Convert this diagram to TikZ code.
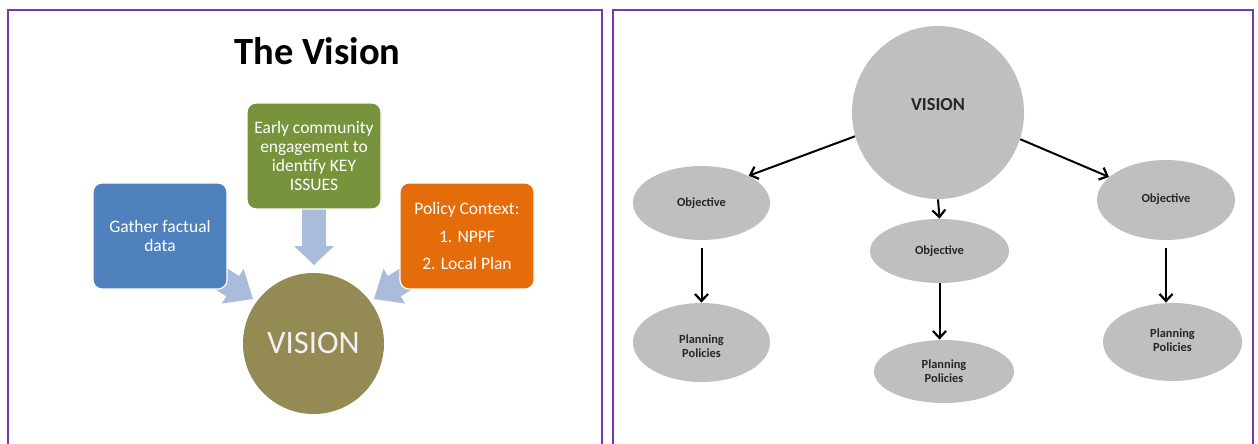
\documentclass[tikz,border=0pt]{standalone}
\usepackage{fontspec}
\setmainfont{Carlito}
\usetikzlibrary{arrows.meta,shapes.geometric}

\definecolor{framepurple}{HTML}{7438B0}
\definecolor{boxblue}{HTML}{4F81BD}
\definecolor{boxgreen}{HTML}{77933C}
\definecolor{boxorange}{HTML}{E46C0A}
\definecolor{visionolive}{HTML}{948A54}
\definecolor{flowblue}{HTML}{A9BCDC}
\definecolor{bubblegray}{HTML}{BFBFBF}

\begin{document}
\begin{tikzpicture}[x=0.5pt,y=-0.5pt,
  panel/.style={draw=framepurple,line width=1pt},
  srcbox/.style={rounded corners=4.5pt,draw=white,line width=0.6pt,
    minimum width=67pt,minimum height=53pt,inner sep=0pt,align=center,
    text=white,font=\fontsize{8.75}{9.65}\selectfont},
  flow/.style={fill=flowblue,draw=none},
  bubble/.style={ellipse,fill=bubblegray,draw=none,inner sep=0pt},
  bubbletext/.style={font=\bfseries\fontsize{6.2}{7}\selectfont,align=center,text=black!85},
  link/.style={line width=1pt,-{Straight Barb[length=3.5pt,width=6.5pt,line width=1.1pt]}}
]
\useasboundingbox (0,0) rectangle (1258,444);
\clip (0,0) rectangle (1258,444);
\fill[white] (0,0) rectangle (1258,444);

% the two panels, running off the lower edge
\draw[panel] (7.5,10) rectangle (601.5,480);
\draw[panel] (612.5,10) rectangle (1252.5,480);

% ---------------- left panel ----------------
\node[anchor=base,font=\bfseries\fontsize{19.25}{23}\selectfont] (title) at (317.5,65) {The Vision};

% converging block arrows (drawn beneath the boxes)
\fill[flow] (302,205) -- (326,205) -- (326,246) -- (334,246) -- (314,265)
  -- (294,246) -- (302,246) -- cycle;
\fill[flow] (188.2,272.4) -- (226.3,296.4) -- (221.8,303.6) -- (253,299)
  -- (243.6,268.8) -- (239.1,276.0) -- (201.0,252.0) -- cycle;
\fill[flow] (438.8,272.4) -- (400.7,296.4) -- (405.2,303.6) -- (374,299)
  -- (383.4,268.8) -- (387.9,276.0) -- (426,252.0) -- cycle;

\node[srcbox,fill=boxgreen] (engage) at (314,156)
  {Early community\\engagement to\\identify KEY\\ISSUES};
\node[srcbox,fill=boxblue] (facts) at (160,236) {Gather factual\\data};
\node[srcbox,fill=boxorange,font=\fontsize{8.75}{13.8}\selectfont] (policy) at (467,236)
  {Policy Context:\\1. NPPF\\2. Local Plan};

\node[circle,fill=visionolive,minimum size=70.5pt,inner sep=0pt,
  text=white!95!black,font=\fontsize{16.3}{18}\selectfont] (vision) at (313.5,343.5) {VISION};

% ---------------- right panel ----------------
\node[bubble,minimum width=86pt,minimum height=86.5pt,
  label={[bubbletext,font=\bfseries\fontsize{9.2}{11}\selectfont,yshift=3.75pt]center:VISION}]
  (vis) at (938,112.5) {};

\node[bubble,minimum width=68.5pt,minimum height=37pt,
  label={[bubbletext]center:Objective}] (objL) at (701.5,203) {};
\node[bubble,minimum width=69.5pt,minimum height=32pt,
  label={[bubbletext]center:Objective}] (objM) at (939.5,251) {};
\node[bubble,minimum width=69pt,minimum height=40pt,
  label={[bubbletext,yshift=0.5pt]center:Objective}] (objR) at (1166,200) {};

\node[bubble,minimum width=68.5pt,minimum height=39.5pt,
  label={[bubbletext,yshift=-2pt]center:{Planning\\Policies}}] (ppL) at (701.5,342.5) {};
\node[bubble,minimum width=70pt,minimum height=31.5pt,
  label={[bubbletext]center:{Planning\\Policies}}] (ppM) at (944,371.5) {};
\node[bubble,minimum width=69.5pt,minimum height=39pt,
  label={[bubbletext,yshift=0.75pt]center:{Planning\\Policies}}] (ppR) at (1172.5,342) {};

\draw[link] (vis.196) -- (objL.30);
\draw[link] (vis.-18) -- (objR.158);
\draw[link] (vis.south) -- (objM.north);
\draw[link,shorten <=4pt] (objL.south) -- (ppL.north);
\draw[link] (objM.south) -- (objM.south |- ppM.north);
\draw[link,shorten <=4pt] (objR.south) -- (objR.south |- ppR.north);
\end{tikzpicture}
\end{document}
